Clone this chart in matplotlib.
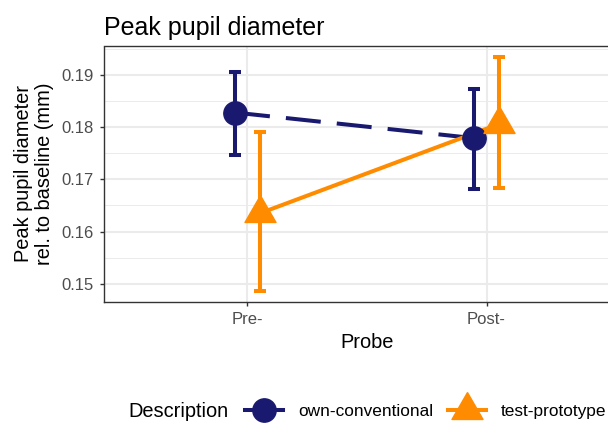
import matplotlib
matplotlib.use("Agg")
import matplotlib.pyplot as plt
from matplotlib.lines import Line2D
from matplotlib.ticker import MultipleLocator
import numpy as np

probes = ["Pre-", "Post-"]
descriptions = ["own-conventional", "test-prototype"]

own_mean = [0.1828, 0.1779]
own_lower = [0.1747, 0.1681]
own_upper = [0.1906, 0.1873]

test_mean = [0.1635, 0.1806]
test_lower = [0.1487, 0.1683]
test_upper = [0.1790, 0.1934]

navy = "#191970"
orange = "#FF8C00"

plt.rcParams["font.family"] = ["Liberation Sans", "DejaVu Sans"]

# triangle with its centroid at the origin (like R's pch 17)
tri = [(0, 1.1547), (-1, -0.5774), (1, -0.5774), (0, 1.1547)]


def make_plot():
    fig = plt.figure(figsize=(6.08, 4.23), dpi=100)
    ax = fig.add_axes([104 / 608, 1 - 302 / 423, 526 / 608, 255.5 / 423])

    x = np.arange(1, len(probes) + 1)
    dodge = 0.052
    series = [
        (own_mean, own_lower, own_upper, navy, "o", 16.8, (0, (8.7, 4.0)), -dodge),
        (test_mean, test_lower, test_upper, orange, tri, 25.8, "-", dodge),
    ]

    for mean, lo, hi, col, mk, ms, ls, off in series:
        xs = x + off
        mean = np.array(mean)
        ax.plot(xs, mean, color=col, lw=2.9, linestyle=ls, zorder=3)
        ax.errorbar(xs, mean, yerr=[mean - np.array(lo), np.array(hi) - mean],
                    fmt="none", ecolor=col, elinewidth=2.9, capsize=4.6,
                    capthick=2.9, zorder=4)
    for mean, lo, hi, col, mk, ms, ls, off in series:
        ax.plot(x + off, mean, linestyle="none", marker=mk, ms=ms,
                color=col, zorder=5)

    ax.set_xlim(0.4, 2.6)
    ax.set_ylim(0.14651, 0.19546)
    ax.set_xticks(x)
    ax.set_xticklabels(probes)
    ax.yaxis.set_major_locator(MultipleLocator(0.01))
    ax.yaxis.set_minor_locator(MultipleLocator(0.005))
    ax.yaxis.set_major_formatter(matplotlib.ticker.FormatStrFormatter("%.2f"))

    ax.grid(True, which="major", color="#EBEBEB", lw=1.45, zorder=0)
    ax.grid(True, which="minor", axis="y", color="#EBEBEB", lw=0.7, zorder=0)
    ax.set_axisbelow(True)
    ax.tick_params(which="major", length=3.2, width=1.0, color="#333333",
                   labelsize=12, labelcolor="#4D4D4D", pad=4.3)
    ax.tick_params(which="minor", length=0)
    for sp in ax.spines.values():
        sp.set_color("#333333")
        sp.set_linewidth(1.0)

    ax.set_title("Peak pupil diameter", loc="left", fontsize=18, pad=8.3)
    ax.set_xlabel("Probe", fontsize=14.4, labelpad=4)
    fig.text(34 / 608, 1 - 174 / 423, "Peak pupil diameter\nrel. to baseline (mm)",
             rotation=90, ha="center", va="center", fontsize=14.4,
             linespacing=1.1, multialignment="center")

    handles = [
        Line2D([], [], color=navy, lw=2.9, marker="o", ms=16.8),
        Line2D([], [], color=orange, lw=2.9, marker=tri, ms=25.8),
    ]
    fig.text(128 / 608, 1 - 411.5 / 423, "Description", ha="left",
             va="center", fontsize=14.4)
    fig.legend(handles, descriptions, loc="center left",
               bbox_to_anchor=(245 / 608, 1 - 411.5 / 423), ncol=2,
               frameon=False, borderpad=0, borderaxespad=0,
               handlelength=2.2, handletextpad=0.87, columnspacing=0.87,
               fontsize=12.4)

    fig.savefig("out.png", dpi=100)


if __name__ == "__main__":
    make_plot()
